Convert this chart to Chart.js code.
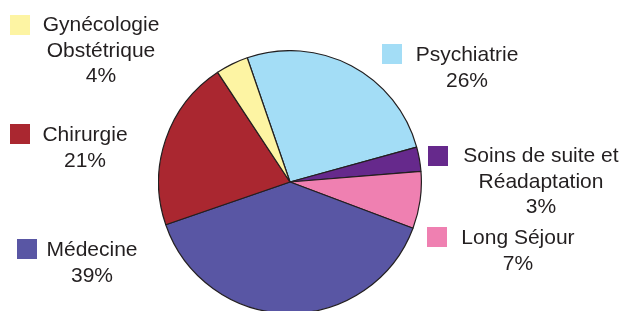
<!DOCTYPE html>
<html>
<head>
<meta charset="utf-8">
<script src="https://cdn.jsdelivr.net/npm/chart.js@4/dist/chart.umd.min.js"></script>
<style>
  html, body { margin: 0; padding: 0; background: #fff; }
  body { width: 622px; height: 311px; position: relative; overflow: hidden;
         font-family: "Liberation Sans", Arial, sans-serif; color: #231f20; }
  #pie-wrap { position: absolute; left: 158px; top: 50px; width: 264px; height: 264px; }
  .lbl { position: absolute; width: 200px; text-align: center; font-size: 21px; line-height: 25.5px; white-space: pre; }
  .box { position: absolute; width: 20px; height: 20px; }
</style>
</head>
<body>
<div id="pie-wrap"><canvas id="chart-pie"></canvas></div>
<div id="labels"></div>
<script>
// Répartition par discipline (%), dans l'ordre horaire à partir de Psychiatrie
const categories = [
  "Psychiatrie",
  "Soins de suite et Réadaptation",
  "Long Séjour",
  "Médecine",
  "Chirurgie",
  "Gynécologie Obstétrique",
];
const shares = [26, 3, 7, 39, 21, 4];
const colors = ["#a3ddf6", "#66298c", "#ef80b1", "#5956a4", "#aa2730", "#fdf4a3"];

// placement des étiquettes : coin de la case, centre du texte, haut du bloc
const labelLayout = [
  { box: [382, 44], cx: 467, top: 41, text: "Psychiatrie" },
  { box: [428, 146], cx: 541, top: 142, text: "Soins de suite et\nRéadaptation" },
  { box: [427, 227], cx: 518, top: 224, text: "Long Séjour" },
  { box: [17, 239], cx: 92, top: 236, text: "Médecine" },
  { box: [10, 124], cx: 85, top: 121, text: "Chirurgie" },
  { box: [10, 15], cx: 101, top: 11, text: "Gynécologie\nObstétrique" },
];

const el = (id) => document.getElementById(id);

function renderLabels() {
  const host = el("labels");
  categories.forEach((name, i) => {
    const pos = labelLayout[i];
    const box = document.createElement("div");
    box.className = "box";
    box.style.left = pos.box[0] + "px";
    box.style.top = pos.box[1] + "px";
    box.style.background = colors[i];
    host.appendChild(box);

    const t = document.createElement("div");
    t.className = "lbl";
    t.style.left = pos.cx - 100 + "px";
    t.style.top = pos.top + "px";
    t.textContent = `${pos.text}\n${shares[i]}%`;
    t.title = name;
    host.appendChild(t);
  });
}

new Chart(el("chart-pie"), {
  type: "pie",
  data: {
    labels: categories,
    datasets: [{
      data: shares,
      backgroundColor: colors,
      borderColor: "#231f20",
      borderWidth: 1.2,
    }],
  },
  options: {
    responsive: true,
    maintainAspectRatio: false,
    animation: false,
    rotation: -19,
    layout: { padding: 0 },
    plugins: { legend: { display: false }, tooltip: { enabled: false } },
  },
});

renderLabels();
</script>
</body>
</html>
